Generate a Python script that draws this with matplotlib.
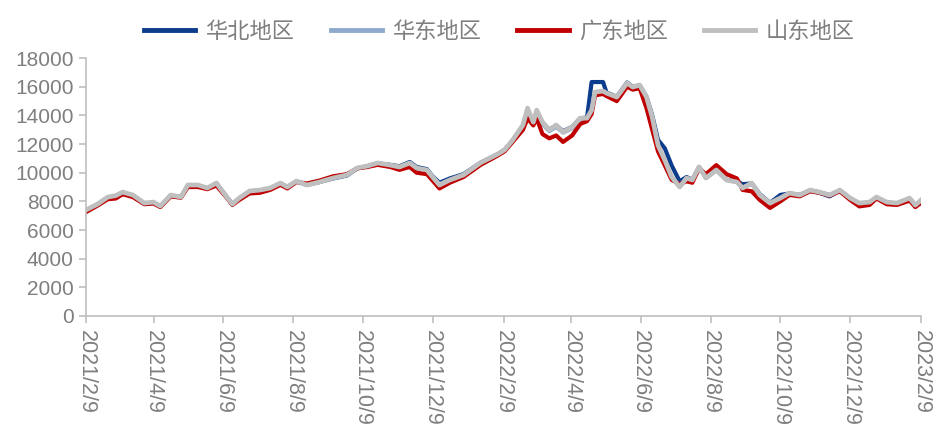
import matplotlib
matplotlib.use("Agg")
import matplotlib.pyplot as plt
import pandas as pd

plt.rcParams["font.family"] = ["Liberation Sans", "Noto Sans CJK SC", "DejaVu Sans"]

dates = [
    "2021-02-09", "2021-02-19", "2021-02-28", "2021-03-07", "2021-03-13", "2021-03-22",
    "2021-04-01", "2021-04-09", "2021-04-15", "2021-04-24", "2021-05-03", "2021-05-09",
    "2021-05-18", "2021-05-26", "2021-06-03", "2021-06-12", "2021-06-17", "2021-06-23",
    "2021-07-02", "2021-07-11", "2021-07-20", "2021-07-29", "2021-08-04", "2021-08-12",
    "2021-08-21", "2021-09-01", "2021-09-13", "2021-09-25", "2021-10-04", "2021-10-13",
    "2021-10-22", "2021-11-02", "2021-11-10", "2021-11-19", "2021-11-25", "2021-12-04",
    "2021-12-09", "2021-12-15", "2021-12-24", "2022-01-05", "2022-01-20", "2022-02-04",
    "2022-02-10", "2022-02-17", "2022-02-26", "2022-03-02", "2022-03-07", "2022-03-10",
    "2022-03-15", "2022-03-21", "2022-03-27", "2022-04-02", "2022-04-10", "2022-04-17",
    "2022-04-23", "2022-04-27", "2022-04-30", "2022-05-07", "2022-05-10", "2022-05-19",
    "2022-05-28", "2022-06-02", "2022-06-08", "2022-06-14", "2022-06-19", "2022-06-24",
    "2022-06-30", "2022-07-06", "2022-07-13", "2022-07-19", "2022-07-24", "2022-07-30",
    "2022-08-05", "2022-08-14", "2022-08-23", "2022-09-01", "2022-09-06", "2022-09-14",
    "2022-09-21", "2022-09-30", "2022-10-09", "2022-10-17", "2022-10-26", "2022-11-04",
    "2022-11-12", "2022-11-21", "2022-11-30", "2022-12-09", "2022-12-17", "2022-12-26",
    "2023-01-01", "2023-01-10", "2023-01-19", "2023-01-30", "2023-02-04", "2023-02-09",
]

huabei = [
    7350, 7800, 8250, 8350, 8600, 8400, 7850, 7900, 7650, 8400, 8300, 9100,
    9100, 8900, 9250, 8300, 7800, 8200, 8700, 8750, 8900, 9250, 9000, 9400,
    9150, 9350, 9600, 9800, 10300, 10450, 10650, 10550, 10450, 10750, 10400, 10250,
    9750, 9300, 9600, 9900, 10700, 11300, 11600, 12250, 13300, 14300, 13500, 14200,
    13500, 13000, 13300, 12900, 13200, 13800, 13850, 16330, 16330, 16330, 15600, 15300,
    16300, 16000, 16100, 15300, 14000, 12300, 11700, 10500, 9400, 9700, 9500, 10400,
    9650, 10200, 9500, 9400, 9200, 9250, 8500, 7900, 8450, 8550, 8450, 8750,
    8600, 8350, 8750, 8200, 7850, 7900, 8250, 7900, 7850, 8200, 7700, 8050,
]
huadong = [
    7350, 7750, 8250, 8350, 8600, 8400, 7850, 7900, 7650, 8400, 8300, 9100,
    9100, 8900, 9250, 8300, 7800, 8200, 8700, 8750, 8900, 9250, 9000, 9400,
    9150, 9350, 9650, 9850, 10300, 10450, 10650, 10500, 10400, 10650, 10300, 10150,
    9700, 9200, 9500, 9850, 10650, 11250, 11550, 12250, 13250, 14300, 13500, 14200,
    13400, 12900, 13200, 12800, 13100, 13700, 13800, 14300, 15600, 15650, 15500, 15250,
    16200, 15950, 16100, 15200, 13800, 11900, 10800, 9700, 9050, 9600, 9500, 10400,
    9650, 10200, 9500, 9350, 8950, 9250, 8450, 7850, 8250, 8550, 8450, 8750,
    8650, 8450, 8750, 8200, 7850, 7900, 8250, 7900, 7850, 8200, 7700, 8050,
]
guangdong = [
    7250, 7700, 8150, 8200, 8500, 8300, 7800, 7850, 7600, 8350, 8250, 9000,
    9000, 8850, 9100, 8250, 7750, 8100, 8550, 8600, 8800, 9150, 8900, 9350,
    9250, 9450, 9750, 9900, 10300, 10400, 10550, 10400, 10200, 10400, 10000, 9900,
    9450, 8900, 9300, 9700, 10550, 11200, 11500, 12150, 13000, 13800, 13300, 13800,
    12700, 12400, 12600, 12150, 12600, 13400, 13600, 14100, 15400, 15500, 15350, 15000,
    16000, 15800, 15900, 14500, 13000, 11500, 10500, 9500, 9200, 9400, 9300, 10300,
    9900, 10530, 9900, 9600, 8800, 8700, 8100, 7540, 8000, 8450, 8350, 8700,
    8600, 8400, 8700, 8100, 7650, 7750, 8200, 7800, 7750, 8050, 7600, 7900,
]
shandong = [
    7400, 7800, 8300, 8400, 8650, 8440, 7880, 7950, 7670, 8440, 8300, 9140,
    9140, 8930, 9280, 8300, 7810, 8230, 8720, 8790, 8930, 9280, 9000, 9420,
    9140, 9350, 9630, 9840, 10330, 10470, 10680, 10530, 10400, 10680, 10330, 10190,
    9700, 9140, 9490, 9840, 10700, 11300, 11600, 12280, 13330, 14510, 13530, 14370,
    13530, 12980, 13330, 12840, 13190, 13810, 13810, 14370, 15630, 15700, 15560, 15280,
    16260, 15980, 16120, 15280, 13880, 11930, 10880, 9700, 9000, 9630, 9490, 10400,
    9630, 10190, 9490, 9350, 8930, 9280, 8440, 7880, 8230, 8580, 8440, 8790,
    8650, 8440, 8790, 8230, 7880, 7950, 8300, 7950, 7880, 8230, 7740, 8090,
]

series_names = ["华北地区", "华东地区", "广东地区", "山东地区"]
series_colors = ["#0C3C8C", "#8EA9CB", "#C00000", "#BFBFBF"]

tick_dates = [
    "2021-02-09", "2021-04-09", "2021-06-09", "2021-08-09", "2021-10-09", "2021-12-09",
    "2022-02-09", "2022-04-09", "2022-06-09", "2022-08-09", "2022-10-09", "2022-12-09",
    "2023-02-09",
]
tick_labels = [
    "2021/2/9", "2021/4/9", "2021/6/9", "2021/8/9", "2021/10/9", "2021/12/9",
    "2022/2/9", "2022/4/9", "2022/6/9", "2022/8/9", "2022/10/9", "2022/12/9",
    "2023/2/9",
]

x = pd.to_datetime(dates)
fig = plt.figure(figsize=(9.33, 4.37), dpi=100)
ax = fig.add_axes([0.0922, 0.277, 0.895, 0.590])

for vals, name, color, lw in zip(
    [huabei, huadong, guangdong, shandong], series_names, series_colors, [3.0, 3.0, 3.0, 3.4]
):
    ax.plot(x, vals, color=color, lw=lw, label=name, solid_joinstyle="round")

ax.set_ylim(0, 18000)
ax.set_yticks(range(0, 18001, 2000))
ax.set_xlim(pd.Timestamp(tick_dates[0]), pd.Timestamp(tick_dates[-1]))
ax.set_xticks(pd.to_datetime(tick_dates))
ax.set_xticklabels(tick_labels, rotation=270, va="top", ha="center")

for s in ["top", "right"]:
    ax.spines[s].set_visible(False)
for s in ["left", "bottom"]:
    ax.spines[s].set_color("#BFBFBF")
    ax.spines[s].set_linewidth(1.2)
ax.tick_params(axis="both", colors="#BFBFBF", length=5, width=1.2, labelsize=15,
               labelcolor="#7F7F7F")
ax.tick_params(axis="y", pad=4)
ax.tick_params(axis="x", pad=5, labelsize=15.5)

leg = fig.legend(loc="upper center", bbox_to_anchor=(0.535, 1.0), ncol=4, frameon=False,
                 handlelength=2.3, handletextpad=0.45, columnspacing=1.65,
                 prop={"family": ["Noto Sans CJK SC"], "size": 16, "weight": "light"})
for t in leg.get_texts():
    t.set_color("#7F7F7F")
for line in leg.get_lines():
    line.set_linewidth(3.5)

fig.savefig("out.png", dpi=100)
